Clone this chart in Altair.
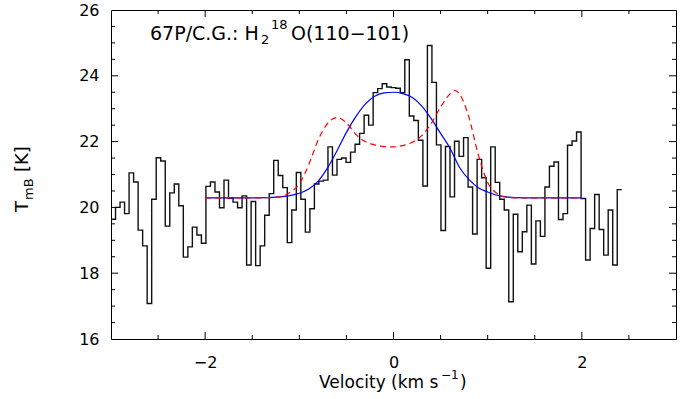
import altair as alt
import numpy as np
import pandas as pd

# ---- spectrum (channel grid + antenna temperature per channel) ----
V0 = -3.0
DV = 0.048
tmb = [19.64, 20.00, 20.16, 19.81, 21.05, 20.77, 19.31, 18.83, 17.08, 20.25,
       21.51, 21.41, 19.43, 20.44, 20.71, 20.05, 18.49, 18.80, 19.40, 19.16,
       18.91, 20.64, 20.77, 20.47, 19.99, 20.83, 20.28, 20.16, 19.99, 20.35,
       18.25, 20.18, 18.23, 18.83, 19.76, 20.42, 21.43, 20.97, 20.60, 18.93,
       19.92, 21.06, 20.25, 19.25, 19.96, 20.71, 20.80, 20.83, 21.84, 20.98,
       21.46, 21.50, 21.37, 21.68, 21.92, 22.25, 22.80, 22.50, 23.49, 23.61,
       23.76, 23.66, 23.64, 23.62, 23.49, 24.49, 22.78, 22.64, 22.04, 20.65,
       24.92, 23.80, 21.90, 19.30, 21.85, 20.32, 22.01, 21.55, 22.12, 20.62,
       19.19, 21.46, 20.90, 18.15, 21.84, 20.76, 20.25, 19.92, 17.13, 19.79,
       18.65, 19.26, 20.07, 18.28, 19.59, 19.12, 20.62, 21.25, 21.38, 19.63,
       19.81, 21.89, 22.02, 22.29, 20.27, 18.40, 19.36, 20.39, 19.33, 18.55,
       19.92, 18.25, 20.54]

# ---- Gaussian fit (blue) ----
blue_v = [-2.0, -1.5, -1.2, -1.1, -1.0, -0.9, -0.8, -0.7, -0.6, -0.5, -0.4, -0.3,
          -0.2, -0.1, 0.0, 0.1, 0.2, 0.3, 0.4, 0.5, 0.6, 0.7, 0.8, 0.9, 1.0, 1.1,
          1.2, 1.3, 1.5, 2.0]
blue_t = [20.29, 20.29, 20.32, 20.36, 20.43, 20.56, 20.80, 21.20, 21.72, 22.28,
          22.76, 23.14, 23.38, 23.48, 23.50, 23.46, 23.34, 23.08, 22.70, 22.25,
          21.80, 21.22, 20.85, 20.60, 20.47, 20.37, 20.32, 20.30, 20.29, 20.29]

# ---- model (red dashed) ----
red_v = [-2.0, -1.5, -1.3, -1.2, -1.1, -1.0, -0.9, -0.8, -0.7, -0.6, -0.5, -0.4,
         -0.3, -0.2, -0.1, 0.0, 0.1, 0.2, 0.3, 0.4, 0.5, 0.6, 0.65, 0.7, 0.8, 0.9,
         1.0, 1.1, 1.2, 1.3, 1.5, 2.0]
red_t = [20.29, 20.29, 20.30, 20.33, 20.45, 20.72, 21.30, 22.05, 22.55, 22.73,
         22.57, 22.22, 22.00, 21.90, 21.85, 21.84, 21.88, 21.98, 22.18, 22.55,
         23.05, 23.45, 23.56, 23.45, 22.75, 21.60, 20.76, 20.42, 20.31, 20.29,
         20.29, 20.29]

# ---- axis ticks / labels ----
x_labels = [-2, 0, 2]
x_major = [-2, 0, 2]
x_minor = [-2.5, -1.5, -1, -0.5, 0.5, 1, 1.5, 2.5]
y_labels = [16, 18, 20, 22, 24, 26]
y_major = [18, 20, 22, 24]
y_minor = [16.5, 17, 17.5, 18.5, 19, 19.5, 20.5, 21, 21.5, 22.5, 23, 23.5,
           24.5, 25, 25.5]

W, H = 565, 329
FONT = "DejaVu Sans"

vel = V0 + DV * np.arange(len(tmb) + 1)
spec = pd.DataFrame({"v": vel, "t": tmb + [tmb[-1]]})

xs = alt.Scale(domain=[-3, 3], nice=False, zero=False)
ys = alt.Scale(domain=[16, 26], nice=False, zero=False)

x_axis = alt.Axis(values=x_labels, format="d", ticks=False, tickSize=0, domain=False,
                  grid=False, title=None, labelFont=FONT, labelFontSize=16,
                  labelColor="black", labelPadding=15, orient="bottom")
y_axis = alt.Axis(values=y_labels, format="d", ticks=False, tickSize=0, domain=False,
                  grid=False, title=None, labelFont=FONT, labelFontSize=16,
                  labelColor="black", labelPadding=12, orient="left")

X = lambda f: alt.X(f, scale=xs, axis=x_axis)
Y = lambda f: alt.Y(f, scale=ys, axis=y_axis)

hist = alt.Chart(spec).mark_line(interpolate="step-after", color="#111111",
                                  strokeWidth=1.4, clip=True).encode(
    x=X("v:Q"), y=Y("t:Q"))

blue = alt.Chart(pd.DataFrame({"v": blue_v, "t": blue_t})).mark_line(
    interpolate="monotone", color="#0000ff", strokeWidth=1.2).encode(
    x=X("v:Q"), y=Y("t:Q"))

red = alt.Chart(pd.DataFrame({"v": red_v, "t": red_t})).mark_line(
    interpolate="monotone", color="#ff0000", strokeWidth=1.2,
    strokeDash=[6, 4]).encode(
    x=X("v:Q"), y=Y("t:Q"))


def xticks(vals, a, b):
    return alt.Chart(pd.DataFrame({"v": vals})).mark_rule(
        color="black", strokeWidth=1).encode(
        x=X("v:Q"), y=alt.value(a), y2=alt.value(b))


def yticks(vals, a, b):
    return alt.Chart(pd.DataFrame({"t": vals})).mark_rule(
        color="black", strokeWidth=1).encode(
        y=Y("t:Q"), x=alt.value(a), x2=alt.value(b))


MJ, MN = 7, 4
ticks = [
    xticks(x_major, H, H - MJ), xticks(x_minor, H, H - MN),
    xticks(x_major, 0, MJ), xticks(x_minor, 0, MN),
    yticks(y_major, 0, MJ), yticks(y_minor, 0, MN),
    yticks(y_major, W, W - MJ), yticks(y_minor, W, W - MN),
]


def txt(s, x, y, size, align="left", angle=0):
    return alt.Chart(pd.DataFrame({"s": [s]})).mark_text(
        align=align, baseline="alphabetic", font=FONT, fontSize=size,
        color="black", angle=angle).encode(
        text="s:N", x=alt.value(x), y=alt.value(y))


labels = [
    # in-plot title
    txt("67P/C.G.: H", 39, 29.5, 19),
    txt("2", 150, 34, 13),
    txt("18", 160, 18.5, 13),
    txt("O(110\u2212101)", 180, 29.5, 19),
    # x title
    txt("Velocity (km s", 208, 378, 17),
    txt("\u22121", 330, 369, 12),
    txt(")", 349, 378, 17),
    # y title (rotated)
    txt("T", -83, 202, 18, angle=270),
    txt("mB", -78, 190, 13, angle=270),
    txt("[K]", -83, 162, 18, angle=270),
]

chart = alt.layer(hist, blue, red, *ticks, *labels).properties(
    width=W, height=H,
    autosize=alt.AutoSizeParams(type="none"),
    padding={"left": 111, "top": 10, "right": 19, "bottom": 60},
).configure_view(stroke="black", strokeWidth=1)

chart.save("out.html", embed_options={"renderer": "svg", "actions": False})
